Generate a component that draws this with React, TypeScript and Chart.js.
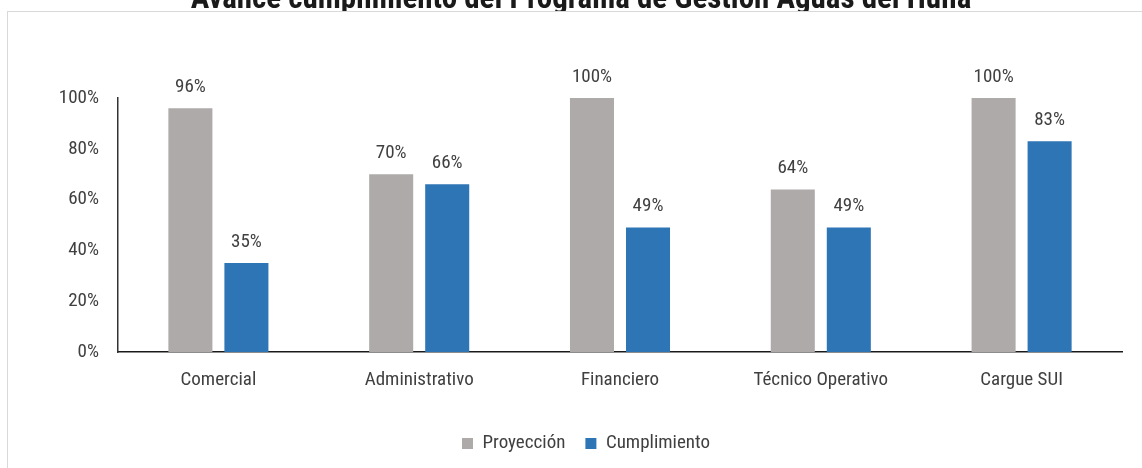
import React, { useEffect, useRef } from "react";
import { Chart, registerables } from "chart.js";

Chart.register(...registerables);

const TITLE = "Avance cumplimiento del Programa de Gestión Aguas del Huila";
const categories = ["Comercial", "Administrativo", "Financiero", "Técnico Operativo", "Cargue SUI"];
const proyeccion = [96, 70, 100, 64, 100];
const cumplimiento = [35, 66, 49, 49, 83];
const seriesNames = ["Proyección", "Cumplimiento"];
const seriesColors = ["#AEAAAA", "#2E75B6"];

const FONT = "'Roboto Condensed', 'Liberation Sans Narrow', 'DejaVu Sans Condensed', 'Arial Narrow', Roboto, sans-serif";
const TEXT = "#404040";
const FS = 19;

const framePlugin = {
  id: "frame",
  afterLayout(chart: any) {
    const lg = chart.legend;
    if (lg) {
      lg.left += 25;
      lg.right += 25;
      lg.top += 2;
      lg.bottom += 2;
    }
  },
  beforeDraw(chart: any) {
    const { ctx, width, height } = chart;
    ctx.save();
    ctx.fillStyle = "#ffffff";
    ctx.fillRect(0, 0, width, height);
    ctx.font = `bold 31px ${FONT}`;
    ctx.fillStyle = "#1a1a1a";
    ctx.textAlign = "center";
    ctx.textBaseline = "alphabetic";
    ctx.fillText(TITLE, 581, 8);
    ctx.fillStyle = "#ffffff";
    ctx.fillRect(7.5, 11.5, width + 20, height + 20);
    ctx.strokeStyle = "#d9d9d9";
    ctx.lineWidth = 1;
    ctx.strokeRect(7.5, 11.5, width + 20, height + 20);
    ctx.restore();
  },
};

const labelPlugin = {
  id: "valueLabels",
  afterDatasetsDraw(chart: any) {
    const { ctx } = chart;
    ctx.save();
    ctx.font = `${FS}px ${FONT}`;
    ctx.fillStyle = TEXT;
    ctx.textAlign = "center";
    ctx.textBaseline = "middle";
    chart.data.datasets.forEach((ds: any, i: number) => {
      const meta = chart.getDatasetMeta(i);
      meta.data.forEach((el: any, j: number) => {
        ctx.fillText(`${ds.data[j]}%`, el.x, el.y - 21);
      });
    });
    ctx.restore();
  },
};

export default function App() {
  const ref = useRef<HTMLCanvasElement | null>(null);
  useEffect(() => {
    if (!ref.current) return;
    const chart = new Chart(ref.current, {
      type: "bar",
      data: {
        labels: categories,
        datasets: [
          {
            label: seriesNames[0],
            data: proyeccion,
            backgroundColor: seriesColors[0],
            categoryPercentage: 0.558,
            barPercentage: 0.786,
          },
          {
            label: seriesNames[1],
            data: cumplimiento,
            backgroundColor: seriesColors[1],
            categoryPercentage: 0.558,
            barPercentage: 0.786,
          },
        ],
      },
      options: {
        responsive: false,
        animation: false,
        layout: { padding: { left: 0, right: 20, top: 98, bottom: 7 } },
        plugins: {
          legend: {
            position: "bottom",
            labels: {
              boxWidth: 11,
              boxHeight: 11,
              color: TEXT,
              padding: 20,
              font: { family: FONT, size: FS },
            },
          },
          title: { display: false },
          tooltip: { enabled: false },
        },
        scales: {
          x: {
            grid: { display: false, drawTicks: false },
            border: { display: true, color: "#1a1a1a", width: 1.5 },
            ticks: { padding: 17, color: TEXT, font: { family: FONT, size: FS } },
            afterFit: (s: any) => {
              s.height = 60;
            },
          },
          y: {
            min: 0,
            max: 100,
            grid: { display: false, drawTicks: false },
            border: { display: true, color: "#333333", width: 1.5 },
            ticks: {
              stepSize: 20,
              padding: 19,
              color: TEXT,
              font: { family: FONT, size: FS },
              callback: (v: any) => `${v}%`,
            },
            afterFit: (s: any) => {
              s.width = 118;
            },
          },
        },
      },
      plugins: [framePlugin, labelPlugin],
    });
    return () => chart.destroy();
  }, []);
  return (
    <div style={{ position: "absolute", left: 0, top: 0, width: 1142, height: 468 }}>
      <canvas ref={ref} width={1142} height={468} style={{ display: "block" }} />
    </div>
  );
}
